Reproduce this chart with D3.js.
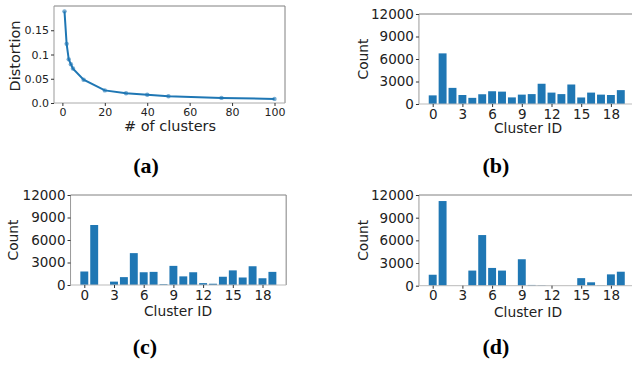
<!DOCTYPE html>
<html>
<head>
<meta charset="utf-8">
<script src="https://cdn.jsdelivr.net/npm/d3@7"></script>
<style>
  body { margin: 0; background: #fff; }
  text { font-family: "DejaVu Sans", sans-serif; fill: #222; }
  .cap { font-family: "Liberation Serif", "Times New Roman", serif; font-weight: bold; fill: #000; }
</style>
</head>
<body>
<svg width="632" height="367"></svg>
<script>
// elbow curve (a)
var kValues = [1, 2, 3, 4, 5, 10, 20, 30, 40, 50, 75, 100];
var distortion = [0.189, 0.122, 0.090, 0.080, 0.071, 0.048, 0.026, 0.020, 0.017, 0.014, 0.0105, 0.0085];
var distTicks = [0, 0.05, 0.1, 0.15];
var distTickLabels = ["0.0", "0.05", "0.1", "0.15"];
var kTicks = [0, 20, 40, 60, 80, 100];

// cluster sizes (b), (c), (d)
var clusterIds = d3.range(20);
var countsB = [1150, 6750, 2150, 1200, 820, 1300, 1700, 1650, 880, 1250, 1320, 2700, 1520, 1320, 2600, 870, 1520, 1250, 1200, 1850];
var countsC = [1800, 8000, 0, 450, 1050, 4250, 1700, 1750, 100, 2550, 1150, 1700, 250, 170, 1100, 1950, 1000, 2500, 900, 1750];
var countsD = [1450, 11200, 0, 0, 2000, 6700, 2350, 2000, 0, 3500, 100, 60, 0, 0, 0, 1000, 450, 50, 1500, 1850];
var countTicks = [0, 3000, 6000, 9000, 12000];
var idTicks = [0, 3, 6, 9, 12, 15, 18];

var blue = "#1f77b4";
var svg = d3.select("svg");
svg.append("rect").attr("width", 632).attr("height", 367).attr("fill", "#fff");

function frame(g, x0, x1, y0, y1, bottomCol) {
  g.append("line").attr("x1", x0).attr("x2", x1).attr("y1", y0).attr("y2", y0).attr("stroke", "#808080");
  g.append("line").attr("x1", x1).attr("x2", x1).attr("y1", y0).attr("y2", y1).attr("stroke", "#808080");
  g.append("line").attr("x1", x0).attr("x2", x0).attr("y1", y0).attr("y2", y1).attr("stroke", "#999");
  g.append("line").attr("x1", x0).attr("x2", x1).attr("y1", y1).attr("y2", y1).attr("stroke", bottomCol);
}

function styleAxis(ax, fs) {
  ax.select(".domain").remove();
  ax.selectAll(".tick line").attr("stroke", "#333");
  ax.selectAll(".tick text").attr("font-size", fs).attr("fill", "#222")
    .style("font-family", "DejaVu Sans, sans-serif");
}

// ---- panel (a)
(function() {
  var x = d3.scaleLinear().domain([-3.95, 104.95]).range([54, 285]);
  var y = d3.scaleLinear().domain([0, 0.2]).range([103, 6]);
  var g = svg.append("g");
  frame(g, 54, 285, 6, 103, "#aaa");

  var ax = g.append("g").attr("transform", "translate(0,103)")
    .call(d3.axisBottom(x).tickValues(kTicks).tickSize(3).tickPadding(2));
  styleAxis(ax, 11);
  var ay = g.append("g").attr("transform", "translate(54,0)")
    .call(d3.axisLeft(y).tickValues(distTicks).tickSize(3).tickPadding(2)
      .tickFormat(function(d, i) { return distTickLabels[i]; }));
  styleAxis(ay, 11);

  var pts = kValues.map(function(k, i) { return [k, distortion[i]]; });
  g.append("path").datum(pts)
    .attr("fill", "none").attr("stroke", blue).attr("stroke-width", 2)
    .attr("d", d3.line().x(function(d) { return x(d[0]); }).y(function(d) { return y(d[1]); }));
  g.selectAll(".pt").data(pts).enter().append("circle")
    .attr("cx", function(d) { return x(d[0]); })
    .attr("cy", function(d) { return y(d[1]); })
    .attr("r", 2.2).attr("fill", blue).attr("fill-opacity", 0.6);

  g.append("text").attr("x", 170).attr("y", 131).attr("text-anchor", "middle")
    .attr("font-size", 14.5).text("# of clusters");
  g.append("text").attr("transform", "translate(19.5,56) rotate(-90)").attr("text-anchor", "middle")
    .attr("font-size", 14.5).text("Distortion");
})();

// ---- bar panels
function barPanel(counts, zeroX, top, bottom, labelX, labelY, countX) {
  var step = 9.9;
  var left = zeroX - 1.39 * step, right = zeroX + 20.39 * step;
  var x = d3.scaleLinear().domain([-1.39, 20.39]).range([left, right]);
  var y = d3.scaleLinear().domain([0, 12000]).range([bottom, top]);
  var g = svg.append("g");

  g.selectAll(".bar").data(counts).enter().append("rect")
    .attr("x", function(d, i) { return x(clusterIds[i] - 0.4); })
    .attr("width", x(0.8) - x(0))
    .attr("y", function(d) { return y(d); })
    .attr("height", function(d) { return bottom - y(d); })
    .attr("fill", blue);

  frame(g, left, right, top, bottom, "#bbb");

  var ax = g.append("g").attr("transform", "translate(0," + bottom + ")")
    .call(d3.axisBottom(x).tickValues(idTicks).tickSize(3).tickPadding(2));
  styleAxis(ax, 13.5);
  var ay = g.append("g").attr("transform", "translate(" + left + ",0)")
    .call(d3.axisLeft(y).tickValues(countTicks).tickSize(3).tickPadding(2).tickFormat(d3.format("d")));
  styleAxis(ay, 13.5);

  g.append("text").attr("x", labelX).attr("y", labelY).attr("text-anchor", "middle")
    .attr("font-size", 13.8).text("Cluster ID");
  g.append("text").attr("transform", "translate(" + countX + "," + ((top + bottom) / 2) + ") rotate(-90)")
    .attr("text-anchor", "middle").attr("font-size", 13.8).text("Count");
}

barPanel(countsB, 432.7, 14, 104, 528, 133, 367.5);
barPanel(countsC, 84.3, 195, 285, 178, 316, 17.5);
barPanel(countsD, 432.7, 195, 285.7, 528, 317, 367.5);

// captions
svg.append("text").attr("class", "cap").attr("x", 146).attr("y", 173).attr("text-anchor", "middle").attr("font-size", 22).text("(a)");
svg.append("text").attr("class", "cap").attr("x", 496).attr("y", 173).attr("text-anchor", "middle").attr("font-size", 22).text("(b)");
svg.append("text").attr("class", "cap").attr("x", 145).attr("y", 354).attr("text-anchor", "middle").attr("font-size", 22).text("(c)");
svg.append("text").attr("class", "cap").attr("x", 496).attr("y", 354).attr("text-anchor", "middle").attr("font-size", 22).text("(d)");
</script>
</body>
</html>
